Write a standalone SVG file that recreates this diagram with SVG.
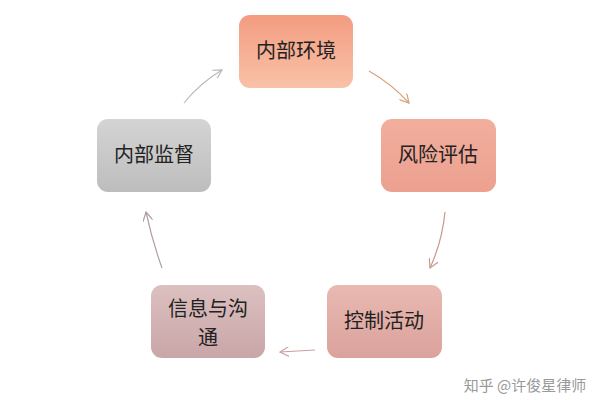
<svg xmlns="http://www.w3.org/2000/svg" width="600" height="400" viewBox="0 0 600 400">
<defs>
<linearGradient id="g1" x1="0" y1="0" x2="0" y2="1"><stop offset="0" stop-color="#f39c80"/><stop offset="1" stop-color="#f8c2a8"/></linearGradient>
<linearGradient id="g2" x1="0" y1="0" x2="0" y2="1"><stop offset="0" stop-color="#f2ae9c"/><stop offset="1" stop-color="#eca090"/></linearGradient>
<linearGradient id="g3" x1="0" y1="0" x2="0" y2="1"><stop offset="0" stop-color="#e9b9b2"/><stop offset="1" stop-color="#dba29c"/></linearGradient>
<linearGradient id="g4" x1="0" y1="0" x2="0" y2="1"><stop offset="0" stop-color="#dcc0c0"/><stop offset="1" stop-color="#c9a6a8"/></linearGradient>
<linearGradient id="g5" x1="0" y1="0" x2="0" y2="1"><stop offset="0" stop-color="#d4d4d4"/><stop offset="1" stop-color="#bdbdbd"/></linearGradient>
<marker id="a1" viewBox="0 0 10 10" refX="9" refY="5" markerWidth="10" markerHeight="10" orient="auto" markerUnits="userSpaceOnUse"><path d="M0,0 L9,5 L0,10" fill="none" stroke="context-stroke" stroke-width="1.2"/></marker>
</defs>
<style>
text{font-family:"Noto Sans CJK SC","Liberation Serif",serif;font-size:20px;fill:#222;text-anchor:middle}
.c{fill:none;stroke-width:1.2}
</style>
<rect width="600" height="400" fill="#fff"/>
<g id="n1"><rect x="239" y="15" width="114" height="73" rx="11" fill="url(#g1)"/><text x="296" y="58">内部环境</text></g>
<g id="n2"><rect x="381" y="119" width="115" height="73" rx="11" fill="url(#g2)"/><text x="438" y="162">风险评估</text></g>
<g id="n3"><rect x="327" y="285" width="115" height="73" rx="11" fill="url(#g3)"/><text x="384" y="328">控制活动</text></g>
<g id="n4"><rect x="151" y="285" width="114" height="73" rx="11" fill="url(#g4)"/><text x="208" y="316">信息与沟</text><text x="208" y="345">通</text></g>
<g id="n5"><rect x="97" y="119" width="114" height="73" rx="11" fill="url(#g5)"/><text x="154" y="162">内部监督</text></g>
<g id="connectors">
<path class="c" stroke="#d9a27e" d="M369,71 Q392,84 409,103" marker-end="url(#a1)"/>
<path class="c" stroke="#c9968a" d="M445,212 Q442,242 430,268" marker-end="url(#a1)"/>
<path class="c" stroke="#c9a0a0" d="M315,350 Q298,351 280,352" marker-end="url(#a1)"/>
<path class="c" stroke="#b0a0a0" d="M162,268 Q152,240 146,212" marker-end="url(#a1)"/>
<path class="c" stroke="#b8b8b8" d="M184,103 Q200,83 222,70" marker-end="url(#a1)"/>
</g>
<text x="525" y="391" style="font-size:15px;fill:#999;font-family:'Noto Sans CJK SC',sans-serif">知乎 @许俊星律师</text>
</svg>
